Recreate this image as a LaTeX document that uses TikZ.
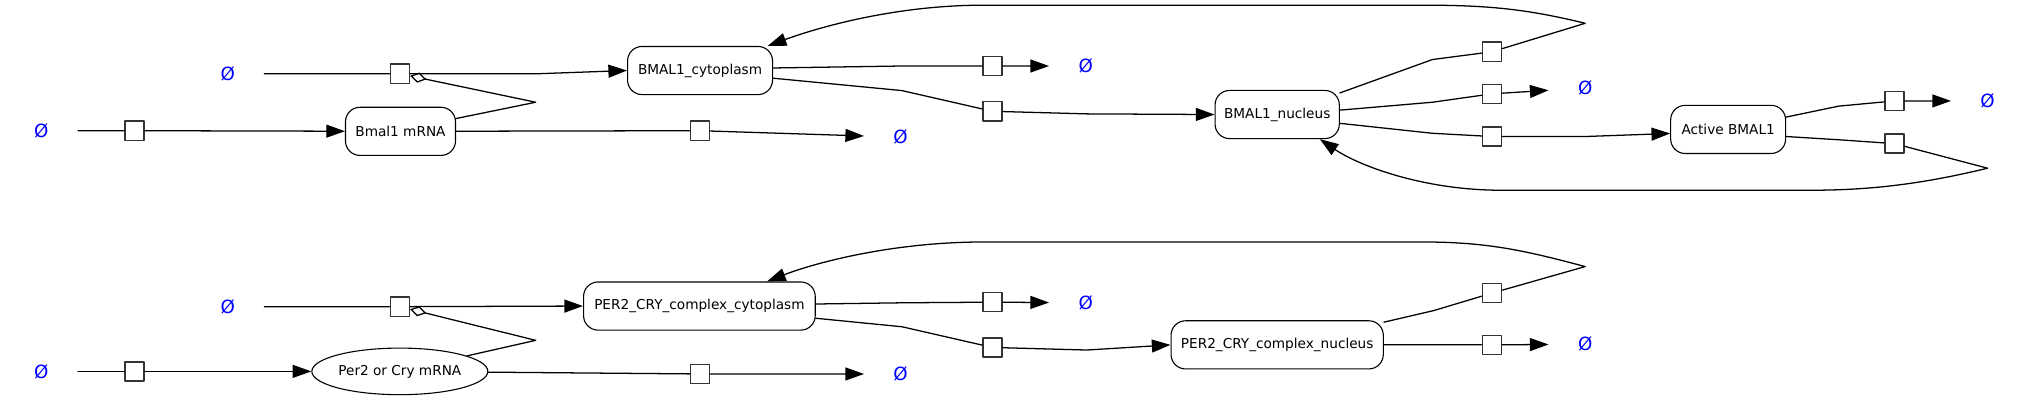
\documentclass[tikz,border=0pt]{standalone}
\usepackage{fontspec}
\setmainfont{DejaVu Sans}
\usetikzlibrary{arrows.meta,shapes.geometric}
\begin{document}
\begin{tikzpicture}[x=0.025cm,y=-0.025cm,>={Triangle[length=0.36cm,width=0.25cm]}, font=\fontsize{7.5}{9}\selectfont, line join=round, line cap=round,
	species/.style={draw,rounded corners=0.28cm,minimum height=0.93cm,inner sep=0pt,line width=0.6pt},
	mrna/.style={draw,ellipse,minimum height=0.9cm,minimum width=3.4cm,inner sep=0pt,line width=0.6pt},
	proc/.style={draw=black!80,fill=white,minimum size=0.37cm,inner sep=0pt,line width=0.8pt},
	sink/.style={text=blue,minimum width=1.4cm,inner sep=0pt,font=\fontsize{10}{10}\selectfont},
	modif/.style={-{Diamond[open,length=0.32cm,width=0.2cm]}},
	link/.style={line width=0.7pt}]
	\useasboundingbox (0,0) rectangle (1568,312.2);
	\foreach \n/\x/\y in {s1/32/101,s2/176/57,s3/839/51,s4/696/106,s5/1225/68,s6/1536/78,s7/32/287,s8/176/237,s9/839/234,s10/696/289,s11/1225/266} \node[sink] (\n) at (\x,\y) {Ø};
	\foreach \n/\x/\y in {p1/104/101,p2/309/57,p3/767/51,p4/767/86,p5/541/101,p6/1153/40,p7/1153/72.5,p8/1153/105.5,p9/1464/78,p10/1464/111,p11/104/287,p12/309/237,p13/767/233.5,p14/767/268.5,p15/541/289,p16/1153/226.5,p17/1153/266.5} \node[proc] (\n) at (\x,\y) {};
	\node[species,minimum width=2.125cm] (bmrna) at (309.5,101.5) {Bmal1 mRNA};
	\node[species,minimum width=2.8cm] (bcyt) at (541,54.5) {BMAL1\_cytoplasm};
	\node[species,minimum width=2.4cm] (bnuc) at (987,88.5) {BMAL1\_nucleus};
	\node[species,minimum width=2.22cm] (bact) at (1335.5,100) {Active BMAL1};
	\node[mrna] (pmrna) at (309,287) {Per2 or Cry mRNA};
	\node[species,minimum width=4.475cm] (pcyt) at (540.5,236.5) {PER2\_CRY\_complex\_cytoplasm};
	\node[species,minimum width=4.1cm] (pnuc) at (987,266.5) {PER2\_CRY\_complex\_nucleus};
	% BMAL1
	\draw[link,->] (s1) -- (p1) -- (bmrna);
	\draw[link,->] (s2) -- (p2) -- (415,57) -- (bcyt.west);
	\draw[link,modif] (bmrna.13) -- (414,79) -- (p2);
	\draw[link,->] (bmrna) -- (p5) -- (s4);
	\draw[link,->] (bcyt.2) -- (697,51) -- (p3) -- (s3);
	\draw[link,->] (bcyt.-6) -- (697,70) -- (p4) -- (840,88) -- (bnuc.west);
	\draw[link,->] (bnuc.19) -- (1107,46) -- (p6) -- (1225,18) .. controls (1180,7) and (1150,4) .. (1100,4) -- (760,4) .. controls (690,4) and (630,22) .. (bcyt.20);
	\draw[link,->] (bnuc.4) -- (1107,79) -- (p7) -- (s5);
	\draw[link,->] (bnuc.-8) -- (1107,103) -- (p8) -- (1225,105.5) -- (bact.184);
	\draw[link,->] (bact.12) -- (1421,82) -- (p9) -- (s6);
	\draw[link,->] (bact.-7) -- (1421,108) -- (p10) -- (1536,130) .. controls (1490,141) and (1450,147) .. (1400,147) -- (1160,147) .. controls (1100,147) and (1050,128) .. (bnuc.-30);
	% PER2/CRY
	\draw[link,->] (s7) -- (p11) -- (pmrna);
	\draw[link,->] (s8) -- (p12) -- (pcyt.west);
	\draw[link,modif] (pmrna.13) -- (414,263) -- (p12);
	\draw[link,->] (pmrna) -- (p15) -- (s10);
	\draw[link,->] (pcyt.1) -- (697,234) -- (p13) -- (s9);
	\draw[link,->] (pcyt.-6) -- (697,252.5) -- (p14) -- (840,270.5) -- (pnuc.west);
	\draw[link,->] (pnuc.12) -- (1108,240) -- (p16) -- (1225,206) .. controls (1180,194) and (1150,187) .. (1100,187) -- (760,187) .. controls (690,187) and (630,203) .. (pcyt.20);
	\draw[link,->] (pnuc) -- (p17) -- (s11);
\end{tikzpicture}
\end{document}
